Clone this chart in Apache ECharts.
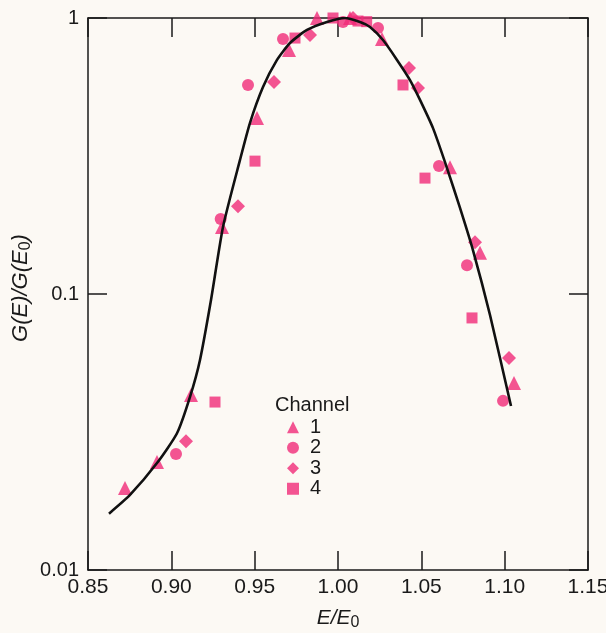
<!DOCTYPE html>
<html>
<head>
<meta charset="utf-8">
<script src="https://cdn.jsdelivr.net/npm/echarts@6/dist/echarts.min.js"></script>
<style>
html,body{margin:0;padding:0;background:#fcf9f4;}
#chart{width:606px;height:633px;}
</style>
</head>
<body>
<div id="chart"></div>
<script>
// Fitted curve G(E)/G(E0) vs E/E0
const curveX = [0.8626,0.8752,0.8914,0.9034,0.9112,0.9172,0.9238,0.931,0.9412,0.9472,0.955,0.9634,0.9712,0.9814,0.9934,1.0042,1.0132,1.0192,1.027,1.0354,1.0432,1.0492,1.057,1.0654,1.0732,1.081,1.0912,1.1038];
const curveY = [0.0160,0.0187,0.0244,0.0313,0.0424,0.0577,0.0951,0.175,0.306,0.417,0.562,0.705,0.812,0.905,0.967,1.0,0.967,0.928,0.832,0.705,0.596,0.505,0.399,0.286,0.205,0.144,0.0839,0.0393];

// Channel 1 (triangles)
const ch1X = [0.8722,0.8914,0.9118,0.9304,0.9514,0.9706,0.9874,1.0072,1.0264,1.0672,1.0852,1.1056];
const ch1Y = [0.0198,0.0246,0.0431,0.175,0.434,0.766,1.0,1.0,0.84,0.288,0.141,0.0476];
// Channel 2 (circles)
const ch2X = [0.9028,0.9296,0.946,0.967,1.003,1.024,1.0606,1.0774,1.099];
const ch2Y = [0.0263,0.187,0.572,0.839,0.967,0.92,0.291,0.127,0.041];
// Channel 3 (diamonds)
const ch3X = [0.9088,0.94,0.9616,0.9832,1.009,1.0426,1.048,1.0822,1.1026];
const ch3Y = [0.0293,0.208,0.586,0.868,1.0,0.659,0.558,0.154,0.0586];
// Channel 4 (squares)
const ch4X = [0.9262,0.9502,0.9742,0.997,1.012,1.0172,1.039,1.0522,1.0804];
const ch4Y = [0.0406,0.303,0.846,1.0,0.975,0.97,0.572,0.263,0.0819];

const xTicks = [0.85,0.90,0.95,1.00,1.05,1.10,1.15];
const yTicks = [0.01,0.1,1];
const channelNames = ['1','2','3','4'];

const pink = '#f02a78';
const ink = '#1a1a1a';
const font = "'Liberation Sans', Arial, sans-serif";

const zip = (a,b) => a.map((v,i)=>[v,b[i]]);

const axisCommon = {
  axisLine:{show:true,lineStyle:{color:ink,width:1.5}},
  axisTick:{show:true,inside:true,length:19,lineStyle:{color:ink,width:1.5}},
  splitLine:{show:false},
  minorTick:{show:false}
};

const chart = echarts.init(document.getElementById('chart'));
chart.setOption({
  backgroundColor:'#fcf9f4',
  animation:false,
  grid:{left:88,right:18,top:18,bottom:63,containLabel:false,outerBoundsMode:'none'},
  xAxis:[
    Object.assign({}, axisCommon, {
      type:'value', min:xTicks[0], max:xTicks[xTicks.length-1], interval:0.05,
      position:'bottom',
      axisLabel:{show:true,margin:7,fontSize:21,color:ink,fontFamily:font,formatter:v=>v.toFixed(2)},
      name:'{i|E/E}{s|0}', nameLocation:'middle', nameGap:35,
      nameTextStyle:{rich:{
        i:{fontSize:21,fontStyle:'italic',color:ink,fontFamily:font},
        s:{fontSize:16,color:ink,fontFamily:font,padding:[10,0,0,0]}
      }}
    }),
    Object.assign({}, axisCommon, {
      type:'value', min:xTicks[0], max:xTicks[xTicks.length-1], interval:0.05,
      position:'top', axisLabel:{show:false}
    })
  ],
  yAxis:[
    Object.assign({}, axisCommon, {
      type:'log', logBase:10, min:yTicks[0], max:yTicks[yTicks.length-1],
      position:'left',
      axisLabel:{show:true,margin:9,fontSize:20,color:ink,fontFamily:font,
        formatter:v=>{ if (Math.abs(v-1)<1e-9) return '1'; if (Math.abs(v-0.1)<1e-9) return '0.1'; if (Math.abs(v-0.01)<1e-9) return '0.01'; return ''; }}
    }),
    Object.assign({}, axisCommon, {
      type:'log', logBase:10, min:yTicks[0], max:yTicks[yTicks.length-1],
      position:'right', axisLabel:{show:false}
    })
  ],
  legend:{
    orient:'vertical', left:282, top:412, itemWidth:12, itemHeight:12, itemGap:0,
    textStyle:{fontSize:20,lineHeight:20.5,color:ink,fontFamily:font,padding:[0,0,0,6]},
    data:[
      {name:'1',icon:'triangle'},
      {name:'2',icon:'circle'},
      {name:'3',icon:'diamond'},
      {name:'4',icon:'rect'}
    ]
  },
  graphic:[
    {type:'text', left:275, top:395, style:{text:'Channel', fontSize:20, fill:ink, fontFamily:font}},
    {type:'text', x:21, y:288, rotation:Math.PI/2,
      style:{text:'{i|G(E)/G(E}{s|0}{i|)}', align:'center', verticalAlign:'middle',
        rich:{
          i:{fontSize:22,fontStyle:'italic',fill:ink,fontFamily:font},
          s:{fontSize:16,fill:ink,fontFamily:font,padding:[10,0,0,0]}
        }}}
  ],
  series:[
    {type:'line', data:zip(curveX,curveY), smooth:0.2, showSymbol:false, symbol:'none',
      lineStyle:{color:'#111',width:2.6}, z:3, silent:true},
    {name:channelNames[0], type:'scatter', data:zip(ch1X,ch1Y), symbol:'triangle', symbolSize:14,
      itemStyle:{color:pink}, clip:false, z:2},
    {name:channelNames[1], type:'scatter', data:zip(ch2X,ch2Y), symbol:'circle', symbolSize:12,
      itemStyle:{color:pink}, clip:false, z:2},
    {name:channelNames[2], type:'scatter', data:zip(ch3X,ch3Y), symbol:'diamond', symbolSize:14,
      itemStyle:{color:pink}, clip:false, z:2},
    {name:channelNames[3], type:'scatter', data:zip(ch4X,ch4Y), symbol:'rect', symbolSize:11,
      itemStyle:{color:pink}, clip:false, z:2}
  ]
});
</script>
</body>
</html>
